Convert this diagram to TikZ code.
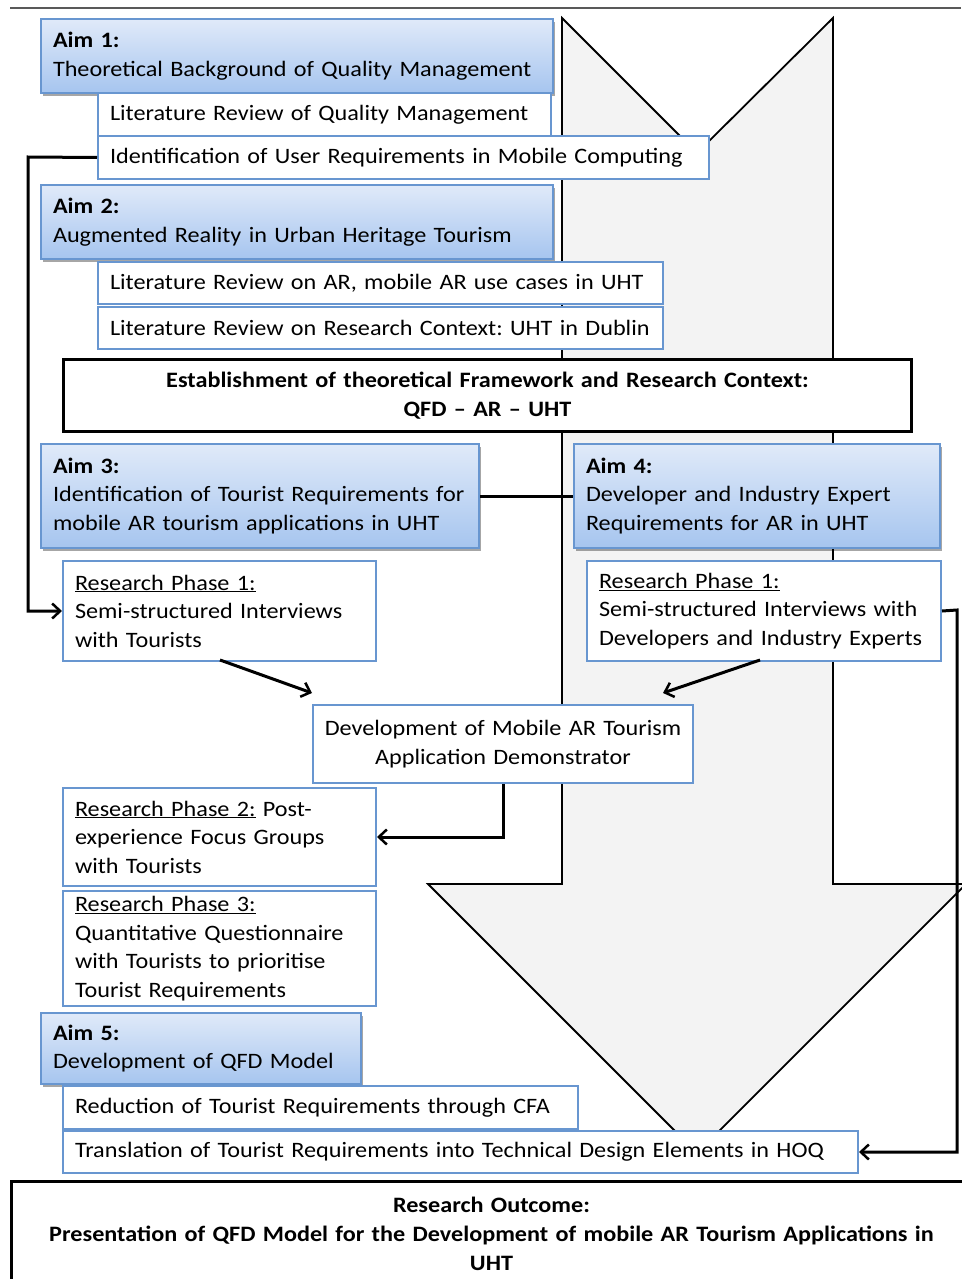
\documentclass[tikz,border=0pt]{standalone}
\usepackage{fontspec}
\setmainfont{Carlito}[FakeStretch=1.1]
\usetikzlibrary{arrows.meta,shadows,calc}
\frenchspacing
\definecolor{bborder}{RGB}{104,150,208}
\definecolor{btop}{RGB}{224,234,249}
\definecolor{bbot}{RGB}{166,197,239}
\definecolor{arrowfill}{RGB}{243,243,243}
\tikzset{
  base/.style={anchor=north west, inner xsep=12pt, inner ysep=0pt, align=left, font=\fontsize{22}{28.5}\selectfont},
  aimbox/.style={base, draw=bborder, line width=2pt, top color=btop, bottom color=bbot,
     drop shadow={shadow xshift=2pt, shadow yshift=-3pt, opacity=0.35, fill=black}},
  subbox/.style={base, draw=bborder, line width=2pt, fill=white},
  blackbox/.style={anchor=north west, draw=black, line width=3pt, fill=white, align=center, inner sep=0pt,
     font=\fontsize{22}{29}\selectfont\bfseries},
  conn/.style={draw=black, line width=3pt, -{Straight Barb[length=8pt,width=15pt,line width=2.5pt]}},
  plainconn/.style={draw=black, line width=3pt},
  bigarrow/.style={draw=black, line width=1.8pt, fill=arrowfill, line join=miter}
}
\begin{document}
\begin{tikzpicture}[x=1pt,y=-1pt]
\useasboundingbox (0,0) rectangle (961,1279);
\fill[white] (0,0) rectangle (961,1279);
% top rule
\draw[gray!70!black, line width=2pt] (10,8) -- (961,8);
% big arrow
\path[bigarrow] (562,18) -- (697,153) -- (833,18) -- (833,884) -- (966,884) -- (697,1153) -- (428,884) -- (562,884) -- cycle;

% Aim 1
\node[aimbox, minimum width=512, minimum height=74, text width=488] (aim1) at (40,18)
  {\textbf{Aim 1:}\\\mbox{Theoretical Background of Quality Management}};
\node[subbox, minimum width=453, minimum height=43, text width=429] (lrqm) at (97,92)
  {\mbox{Literature Review of Quality Management}};
\node[subbox, minimum width=611, minimum height=43, text width=587] (iur) at (97,135)
  {\mbox{Identification of User Requirements in Mobile Computing}};
% Aim 2
\node[aimbox, minimum width=512, minimum height=74, text width=488] (aim2) at (40,184)
  {\textbf{Aim 2:}\\\mbox{Augmented Reality in Urban Heritage Tourism}};
\node[subbox, minimum width=565, minimum height=42, text width=541] (lrar) at (97,261)
  {\mbox{Literature Review on AR, mobile AR use cases in UHT}};
\node[subbox, minimum width=565, minimum height=42, text width=541] (lrrc) at (97,306)
  {\mbox{Literature Review on Research Context: UHT in Dublin}};
% Establishment
\node[blackbox, minimum width=848, minimum height=72, text width=848] (est) at (62,358)
  {Establishment of theoretical Framework and Research Context:\\QFD -- AR -- UHT};
% Aim 3 / Aim 4
\node[aimbox, minimum width=438, minimum height=104, text width=414] (aim3) at (40,443)
  {\textbf{Aim 3:}\\\mbox{Identification of Tourist Requirements for}\\\mbox{mobile AR tourism applications in UHT}};
\node[aimbox, minimum width=366, minimum height=104, text width=342] (aim4) at (573,443)
  {\textbf{Aim 4:}\\\mbox{Developer and Industry Expert}\\\mbox{Requirements for AR in UHT}};
% Research Phase 1
\node[subbox, minimum width=313, minimum height=100, text width=289] (rp1l) at (62,560)
  {\underline{Research Phase 1:}\\\mbox{Semi-structured Interviews}\\with Tourists};
\node[subbox, minimum width=354, minimum height=100, text width=330] (rp1r) at (586,560)
  {\underline{Research Phase 1:}\\\mbox{Semi-structured Interviews with}\\\mbox{Developers and Industry Experts}};
% Development
\node[subbox, align=center, inner xsep=2pt, minimum width=380, minimum height=78, text width=376] (dev) at (312,704)
  {\mbox{Development of Mobile AR Tourism}\\\mbox{Application Demonstrator}};
% Research Phase 2 / 3
\node[subbox, minimum width=313, minimum height=98, text width=289] (rp2) at (62,787)
  {\mbox{\underline{Research Phase 2:} Post-}\\\mbox{experience Focus Groups}\\with Tourists};
\node[subbox, minimum width=313, minimum height=115, text width=289] (rp3) at (62,890)
  {\underline{Research Phase 3:}\\\mbox{Quantitative Questionnaire}\\\mbox{with Tourists to prioritise}\\\mbox{Tourist Requirements}};
% Aim 5
\node[aimbox, minimum width=320, minimum height=71, text width=296] (aim5) at (40,1012)
  {\textbf{Aim 5:}\\\mbox{Development of QFD Model}};
\node[subbox, minimum width=515, minimum height=43, text width=491] (red) at (62,1085)
  {\mbox{Reduction of Tourist Requirements through CFA}};
\node[subbox, minimum width=795, minimum height=42, text width=771] (trans) at (62,1130)
  {\mbox{Translation of Tourist Requirements into Technical Design Elements in HOQ}};
% Outcome
\node[blackbox, minimum width=960, minimum height=104, text width=940] (out) at (10,1180)
  {Research Outcome:\\Presentation of QFD Model for the Development of mobile AR Tourism Applications in\\UHT};

% connectors
\coordinate (c1) at (28,157);
\draw[conn] (iur.west) -- (c1) |- (rp1l.west);
\draw[plainconn] (aim3.east) -- (aim4.west);
\coordinate (s1) at (220,660);
\coordinate (e1) at (312,693);
\draw[conn] (s1) -- (e1);
\coordinate (s2) at (760,660);
\coordinate (e2) at (663,693);
\draw[conn] (s2) -- (e2);
\draw[conn] (dev.south) |- (rp2.east);
\coordinate (c2) at (957,610);
\draw[conn] (rp1r.east) -- (c2) |- (trans.east);
\end{tikzpicture}
\end{document}
